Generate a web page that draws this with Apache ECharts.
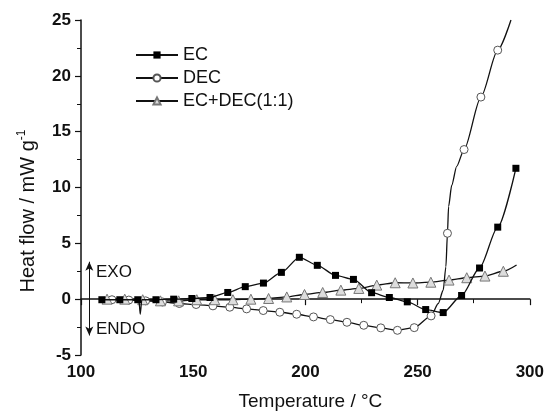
<!DOCTYPE html>
<html>
<head>
<meta charset="utf-8">
<script src="https://cdn.jsdelivr.net/npm/echarts@6/dist/echarts.min.js"></script>
<style>
  html, body { margin: 0; padding: 0; background: #fff; }
  #main { width: 547px; height: 416px; }
</style>
</head>
<body>
<div id="main"></div>
<script>
// DSC curves
const FONT = "'Liberation Sans', Arial, sans-serif";

// EC: marker points and extra line-only points
const ecMarkT = [109.3, 117.3, 125.3, 133.4, 141.3, 149.4, 157.5, 165.4, 173.2, 181.3, 189.3, 197.3,
                 205.3, 213.4, 221.4, 229.5, 237.4, 245.4, 253.6, 261.4, 269.6, 277.6, 285.7, 293.8];
const ecMarkV = [-0.05, -0.05, -0.05, -0.05, 0, 0.06, 0.15, 0.6, 1.12, 1.44, 2.4, 3.75,
                 3.03, 2.13, 1.77, 0.58, 0.15, -0.24, -0.93, -1.2, 0.33, 2.79, 6.45, 11.72];
const ecLineT = [125.8, 126.4, 127.1];
const ecLineV = [-0.05, -1.35, -0.05];

// DEC
const decMarkT = [113.8, 121.3, 128.8, 136.3, 143.8, 151.3, 158.8, 166.3, 173.8, 181.2, 188.6, 196.1,
                  203.6, 211.1, 218.5, 226.0, 233.6, 241.0, 248.5, 256.0, 263.3, 270.7, 278.2, 285.7];
const decMarkV = [-0.05, -0.08, -0.15, -0.25, -0.39, -0.48, -0.6, -0.72, -0.87, -1.02, -1.17, -1.35,
                  -1.59, -1.83, -2.07, -2.34, -2.57, -2.79, -2.55, -1.5, 5.9, 13.4, 18.1, 22.3];
const decLineT = [109.5, 259.2, 261.4, 262.6, 263.8, 265.2, 267.4, 291.6];
const decLineV = [0, -0.39, 0.8, 2.9, 8.3, 10.2, 11.9, 25];

// EC+DEC(1:1)
const mixMarkT = [111.6, 119.5, 127.5, 135.4, 143.5, 151.6, 159.6, 167.7, 175.7, 183.6, 191.7, 199.6,
                  207.7, 215.8, 223.8, 231.8, 240.0, 247.9, 255.9, 264.0, 271.9, 280.0, 288.2];
const mixMarkV = [0, 0, -0.05, -0.15, -0.15, -0.05, -0.05, -0.05, 0, 0.06, 0.2, 0.42,
                  0.6, 0.81, 0.96, 1.26, 1.47, 1.45, 1.52, 1.71, 1.92, 2.07, 2.5];
const mixLineT = [294.1];
const mixLineV = [3.06];

const seriesNames = ['EC', 'DEC', 'EC+DEC(1:1)'];

// merge marker points and plain line points, sorted by temperature
function buildData(mT, mV, lT, lV) {
  let pts = [];
  for (let i = 0; i < mT.length; i++) pts.push({ value: [mT[i], mV[i]] });
  for (let i = 0; i < lT.length; i++) pts.push({ value: [lT[i], lV[i]], symbol: 'none' });
  pts.sort((a, b) => a.value[0] - b.value[0]);
  return pts;
}

const chart = echarts.init(document.getElementById('main'));

const lineBase = {
  type: 'line',
  smooth: 0.25,
  smoothMonotone: 'x',
  showAllSymbol: true,
  lineStyle: { color: '#111', width: 1.3 },
  emphasis: { disabled: true },
  z: 3
};

chart.setOption({
  animation: false,
  backgroundColor: '#fff',
  grid: { left: 81, right: 17, top: 20, bottom: 61 },
  legend: {
    orient: 'vertical',
    left: 130,
    top: 41,
    itemWidth: 42,
    itemHeight: 9,
    itemGap: 5,
    data: seriesNames,
    textStyle: { fontFamily: FONT, fontSize: 18, color: '#111' }
  },
  xAxis: {
    type: 'value',
    min: 100, max: 300, interval: 50,
    name: 'Temperature / °C',
    nameLocation: 'middle',
    nameGap: 37,
    nameTextStyle: { fontFamily: FONT, fontSize: 19, color: '#111', padding: [0, 0, 0, 10] },
    axisLine: { lineStyle: { color: '#111', width: 1.5 } },
    axisTick: { length: 6, lineStyle: { color: '#111', width: 1.2 } },
    minorTick: { show: true, splitNumber: 2, length: 4, lineStyle: { color: '#111', width: 1 } },
    axisLabel: { fontFamily: FONT, fontSize: 17, fontWeight: 'bold', color: '#111', margin: 9 },
    splitLine: { show: false }
  },
  yAxis: {
    type: 'value',
    min: -5, max: 25, interval: 5,
    axisLine: { show: true, lineStyle: { color: '#111', width: 1.5 } },
    axisTick: { show: true, length: 6, lineStyle: { color: '#111', width: 1.2 } },
    minorTick: { show: true, splitNumber: 2, length: 4, lineStyle: { color: '#111', width: 1 } },
    axisLabel: { fontFamily: FONT, fontSize: 17, fontWeight: 'bold', color: '#111', margin: 10 },
    splitLine: { show: false }
  },
  series: [
    Object.assign({}, lineBase, {
      name: 'EC',
      symbol: 'rect', symbolSize: 7,
      itemStyle: { color: '#000', borderColor: '#000', borderWidth: 0 },
      data: buildData(ecMarkT, ecMarkV, ecLineT, ecLineV),
      z: 4
    }),
    Object.assign({}, lineBase, {
      name: 'DEC',
      symbol: 'circle', symbolSize: 8,
      itemStyle: { color: '#fff', borderColor: '#555', borderWidth: 1 },
      data: buildData(decMarkT, decMarkV, decLineT, decLineV)
    }),
    Object.assign({}, lineBase, {
      name: 'EC+DEC(1:1)',
      symbol: 'triangle', symbolSize: 10,
      itemStyle: { color: '#ddd', borderColor: '#777', borderWidth: 1 },
      data: buildData(mixMarkT, mixMarkV, mixLineT, mixLineV),
      markLine: {
        silent: true,
        symbol: ['arrow', 'arrow'],
        symbolSize: [6, 9],
        label: { show: false },
        lineStyle: { color: '#111', width: 1, type: 'solid' },
        data: [[{ coord: [103.7, 3.35] }, { coord: [103.7, -3.25] }]]
      }
    })
  ],
  graphic: [
    {
      type: 'text', left: 96, top: 264,
      style: { text: 'EXO', fontFamily: FONT, fontSize: 17, fill: '#111' }
    },
    {
      type: 'text', left: 96, top: 321,
      style: { text: 'ENDO', fontFamily: FONT, fontSize: 17, fill: '#111' }
    },
    {
      type: 'text', x: 28, y: 211, rotation: Math.PI / 2,
      style: {
        text: 'Heat flow / mW g{sup|-1}',
        align: 'center', verticalAlign: 'middle',
        fontFamily: FONT, fontSize: 20, fill: '#111',
        lineHeight: 24,
        rich: { sup: { fontFamily: FONT, fontSize: 12, fill: '#111', verticalAlign: 'top', lineHeight: 24 } }
      }
    }
  ]
});
</script>
</body>
</html>
